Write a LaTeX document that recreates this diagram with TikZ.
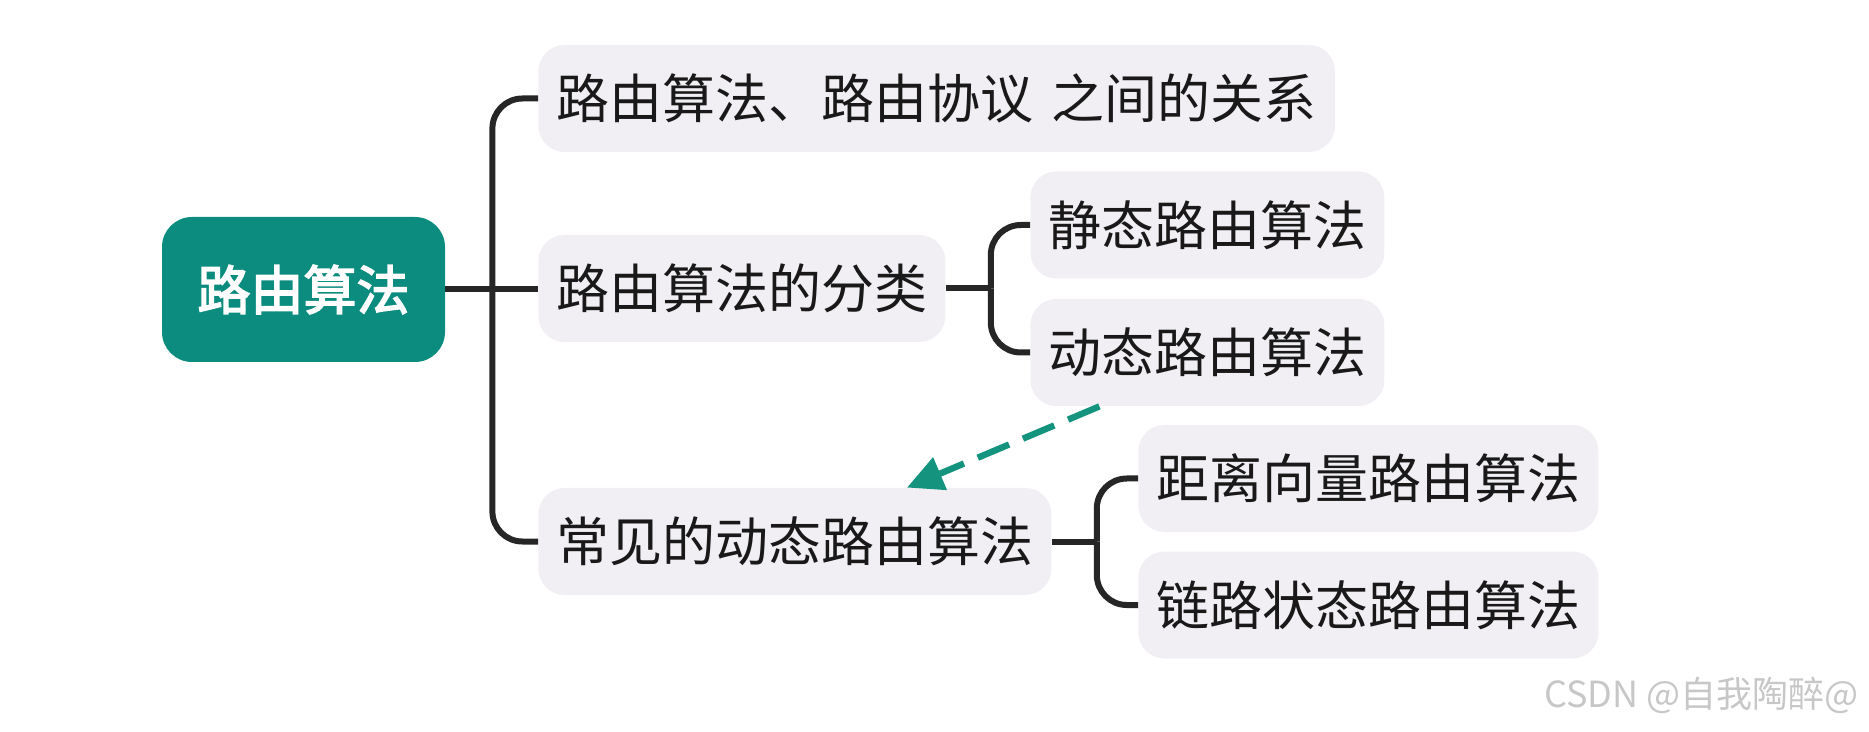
\documentclass[tikz,border=0pt]{standalone}
\usepackage{fontspec}
\usepackage{xcolor}
\usepackage{tikz}
\usetikzlibrary{arrows.meta}
\newfontfamily\cjk{Noto Sans CJK SC}
\newfontfamily\cjkmed{Noto Sans CJK SC}[FakeBold=3]
\definecolor{mindteal}{HTML}{0C8C7E}
\definecolor{linkteal}{HTML}{14937F}
\definecolor{topicgray}{HTML}{F1EFF3}

\begin{document}
\begin{tikzpicture}[
    x=0.5pt, y=-0.5pt,
    root/.style={rectangle, rounded corners=15pt, fill=mindteal, text=white, minimum width=141.5pt, minimum height=72.5pt, font=\cjkmed\fontsize{26.5}{30}\selectfont},
    topic/.style={rectangle, rounded corners=13pt, fill=topicgray, anchor=west, inner xsep=9pt, inner ysep=0pt, minimum height=53.5pt, text=black!90, font=\cjk\fontsize{26.5}{30}\selectfont},
    branch/.style={line width=3pt, black!85, rounded corners=15pt},
    relation/.style={-{Triangle[length=18pt, width=17pt]}, line width=3.2pt, linkteal, dash pattern=on 17pt off 7.5pt},
    watermark/.style={anchor=east, text=black!22, font=\cjk\fontsize{18}{20}\selectfont}
]
\useasboundingbox (0,0) rectangle (1869,732);

% Root
\node[root] (root) at (303.5, 289.5) {路由算法};

% Topics
\node[topic] (rel) at (538, 98.5) {路由算法、路由协议\hspace{0.35em}之间的关系};
\node[topic] (cls) at (538, 288.5) {路由算法的分类};
\node[topic] (common) at (538, 541.5) {常见的动态路由算法};

% Subtopics
\node[topic] (static) at (1030, 225) {静态路由算法};
\node[topic] (dynamic) at (1030, 352.5) {动态路由算法};
\node[topic] (dv) at (1138, 478.5) {距离向量路由算法};
\node[topic] (ls) at (1138, 605) {链路状态路由算法};

% Junctions
\coordinate (j1) at ([xshift=23.5pt]root.east);
\coordinate (j2) at ([xshift=22.5pt]cls.east);
\coordinate (j3) at ([xshift=22.5pt]common.east);

% Branches
\draw[branch] (root.east) -- (root.east -| cls.west);
\draw[branch] (j1) |- (rel.west);
\draw[branch] (j1) |- (common.west);
\draw[branch] (cls.east) -- (j2);
\draw[branch] (j2) |- (static.west);
\draw[branch] (j2) |- (dynamic.west);
\draw[branch] (common.east) -- (j3);
\draw[branch] (j3) |- (dv.west);
\draw[branch] (j3) |- (ls.west);

% Relation
\draw[relation] ([xshift=-54pt]dynamic.south) -- ([xshift=56pt]common.north);

% Watermark
\node[watermark] (wm) at (1866, 695) {CSDN @自我陶醉@};

\end{tikzpicture}
\end{document}
